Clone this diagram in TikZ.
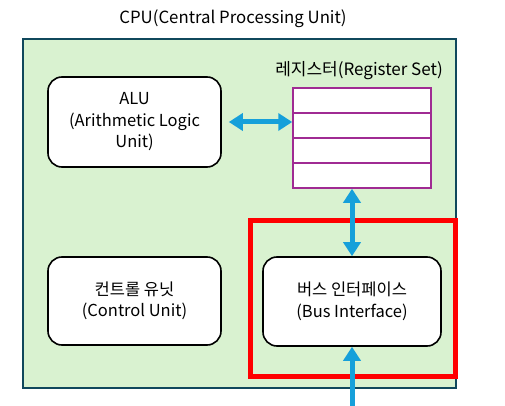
\documentclass[tikz,border=0pt]{standalone}
\usepackage{fontspec}
\setmainfont{Noto Sans CJK KR}
\usetikzlibrary{arrows.meta}
\definecolor{cpufill}{RGB}{217,242,208}
\definecolor{cpuline}{RGB}{16,72,92}
\definecolor{regline}{RGB}{160,43,147}
\definecolor{busblue}{RGB}{22,160,218}
\tikzset{
  unit/.style={draw,line width=1.6pt,rounded corners=14pt,fill=white,minimum width=173pt,minimum height=90pt,align=center,font=\fontsize{16.5}{21.5}\selectfont},
  regrow/.style={draw=regline,line width=1.5pt,fill=white,minimum width=138pt,minimum height=25pt,inner sep=0pt},
  busarrow/.style={busblue,line width=5pt,arrows={-Triangle[length=14pt,width=17pt]}},
  busarrows/.style={busblue,line width=5pt,arrows={Triangle[length=14pt,width=17pt]-Triangle[length=14pt,width=17pt]}}
}
\begin{document}
\begin{tikzpicture}[x=1pt,y=-1pt]
\useasboundingbox (0,0) rectangle (505,406);
\node (cpu) [draw=cpuline,line width=1.6pt,fill=cpufill,minimum width=433pt,minimum height=349pt,inner sep=0pt] at (239.5,213.5) {} ;
\node (cpulabel) at (233,19) {\fontsize{16.8}{20}\selectfont CPU(Central Processing Unit)} ;
\node (alu) [unit] at (134.5,122) {ALU\\(Arithmetic Logic\\Unit)} ;
\node (cu) [unit,minimum height=88pt] at (134.5,301) {컨트롤 유닛\\(Control Unit)} ;
\node (bus) [unit,minimum width=178pt,minimum height=89pt] at (352,301.5) {버스 인터페이스\\(Bus Interface)} ;
\node (reg1) [regrow] at (362,100.5) {} ;
\node (reg2) [regrow] at (362,125.5) {} ;
\node (reg3) [regrow] at (362,150.5) {} ;
\node (reg4) [regrow] at (362,175.5) {} ;
\node (reglabel) at (359,71) {\fontsize{17}{20}\selectfont 레지스터(Register Set)} ;
\node (hl) [draw=red,line width=5.5pt,minimum width=205pt,minimum height=156pt,inner sep=0pt] at (353,298.5) {} ;
\coordinate (busin) at (352,410) ;
\draw[busarrows,shorten <=7pt] (alu.east) -- (alu.east -| reg1.west) ;
\draw[busarrows] (reg4.south -| bus.north) -- (bus.north) ;
\draw[busarrow] (busin) -- (bus.south) ;
\end{tikzpicture}
\end{document}
